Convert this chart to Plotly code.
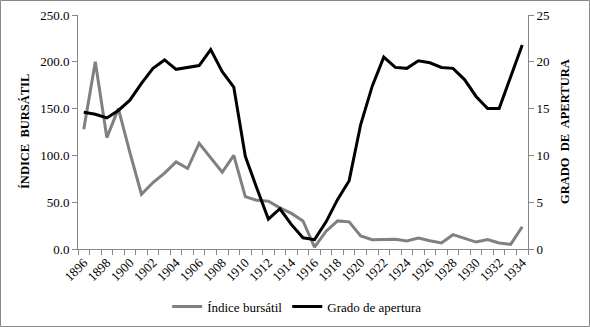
import plotly.graph_objects as go

years = list(range(1896, 1935))
indice_bursatil = [128, 200, 119, 150, 103, 58.5, 71, 81, 93, 86, 113, 97, 82, 100, 56, 52, 51, 44, 38, 30,
                   2, 19, 30, 29, 14, 10, 10, 10.5, 8.5, 11.7, 8.8, 6.4, 15.3, 11.3, 7.4, 10, 6.4, 5, 23.8]
grado_apertura = [14.6, 14.4, 14.0, 14.8, 15.9, 17.7, 19.3, 20.2, 19.2, 19.4, 19.6, 21.3, 18.95, 17.3, 9.9,
                  6.5, 3.2, 4.3, 2.6, 1.2, 1.0, 2.9, 5.3, 7.3, 13.3, 17.4, 20.5, 19.4, 19.3, 20.1, 19.9,
                  19.4, 19.3, 18.1, 16.3, 15.0, 15.0, 18.4, 21.8]
tick_years = list(range(1896, 1935, 2))

FONT = "Liberation Serif"
AX = "#868686"

fig = go.Figure()
fig.add_trace(go.Scatter(x=years, y=indice_bursatil, mode="lines", name="Índice bursátil",
                         line=dict(color="#808080", width=3)))
fig.add_trace(go.Scatter(x=years, y=grado_apertura, mode="lines", name="Grado de apertura",
                         line=dict(color="#000000", width=3), yaxis="y2"))

L, R, T, B = 78, 62, 15, 78
W, H = 590, 327
pw, ph = W - L - R, H - T - B

fig.update_layout(
    width=W, height=H,
    margin=dict(l=L, r=R, t=T, b=B, autoexpand=False),
    paper_bgcolor="white", plot_bgcolor="white",
    font=dict(family=FONT, size=13, color="black"),
    showlegend=True,
    legend=dict(orientation="h", x=0.487, xanchor="center", y=(T + ph - 306.5) / ph, yanchor="middle",
                font=dict(family=FONT, size=13, color="black"), itemwidth=30,
                bgcolor="rgba(0,0,0,0)"),
    xaxis=dict(
        type="linear", range=[1895.5, 1934.5],
        tickmode="array", tickvals=tick_years, ticktext=[str(y) for y in tick_years],
        tickangle=-45, ticks="", ticklen=0,
        showline=True, linecolor=AX, linewidth=1, showgrid=False, zeroline=False,
        minor=dict(ticks="outside", tick0=1895.5, dtick=1, ticklen=5, tickcolor=AX, showgrid=False),
        tickfont=dict(family=FONT, size=13, color="black"),
    ),
    yaxis=dict(
        range=[0, 250], dtick=50, tick0=0, tickformat=".1f",
        ticks="outside", ticklen=5, tickcolor=AX,
        showline=True, linecolor=AX, linewidth=1, showgrid=False, zeroline=False,
        tickfont=dict(family=FONT, size=13, color="black"),
    ),
    yaxis2=dict(
        range=[0, 25], dtick=5, tick0=0, overlaying="y", side="right",
        ticks="outside", ticklen=5, tickcolor=AX,
        showline=True, linecolor=AX, linewidth=1, showgrid=False, zeroline=False,
        tickfont=dict(family=FONT, size=13, color="black"),
    ),
)

# axis titles
fig.add_annotation(text="<b>ÍNDICE  BURSÁTIL</b>", xref="paper", yref="paper",
                   x=(25 - L) / pw, y=0.5, textangle=-90, showarrow=False,
                   font=dict(family=FONT, size=12.5, color="black"), xanchor="center", yanchor="middle")
fig.add_annotation(text="<b>GRADO  DE  APERTURA</b>", xref="paper", yref="paper",
                   x=(565 - L) / pw, y=0.5, textangle=-90, showarrow=False,
                   font=dict(family=FONT, size=12.5, color="black"), xanchor="center", yanchor="middle")

# outer border
fig.add_shape(type="rect", xref="paper", yref="paper",
              x0=(0.5 - L) / pw, x1=(W - 0.5 - L) / pw,
              y0=(T + ph - (H - 0.5)) / ph, y1=(T + ph - 0.5) / ph,
              line=dict(color="#888888", width=1), fillcolor="rgba(0,0,0,0)", layer="below")

fig.write_html("out.html")
